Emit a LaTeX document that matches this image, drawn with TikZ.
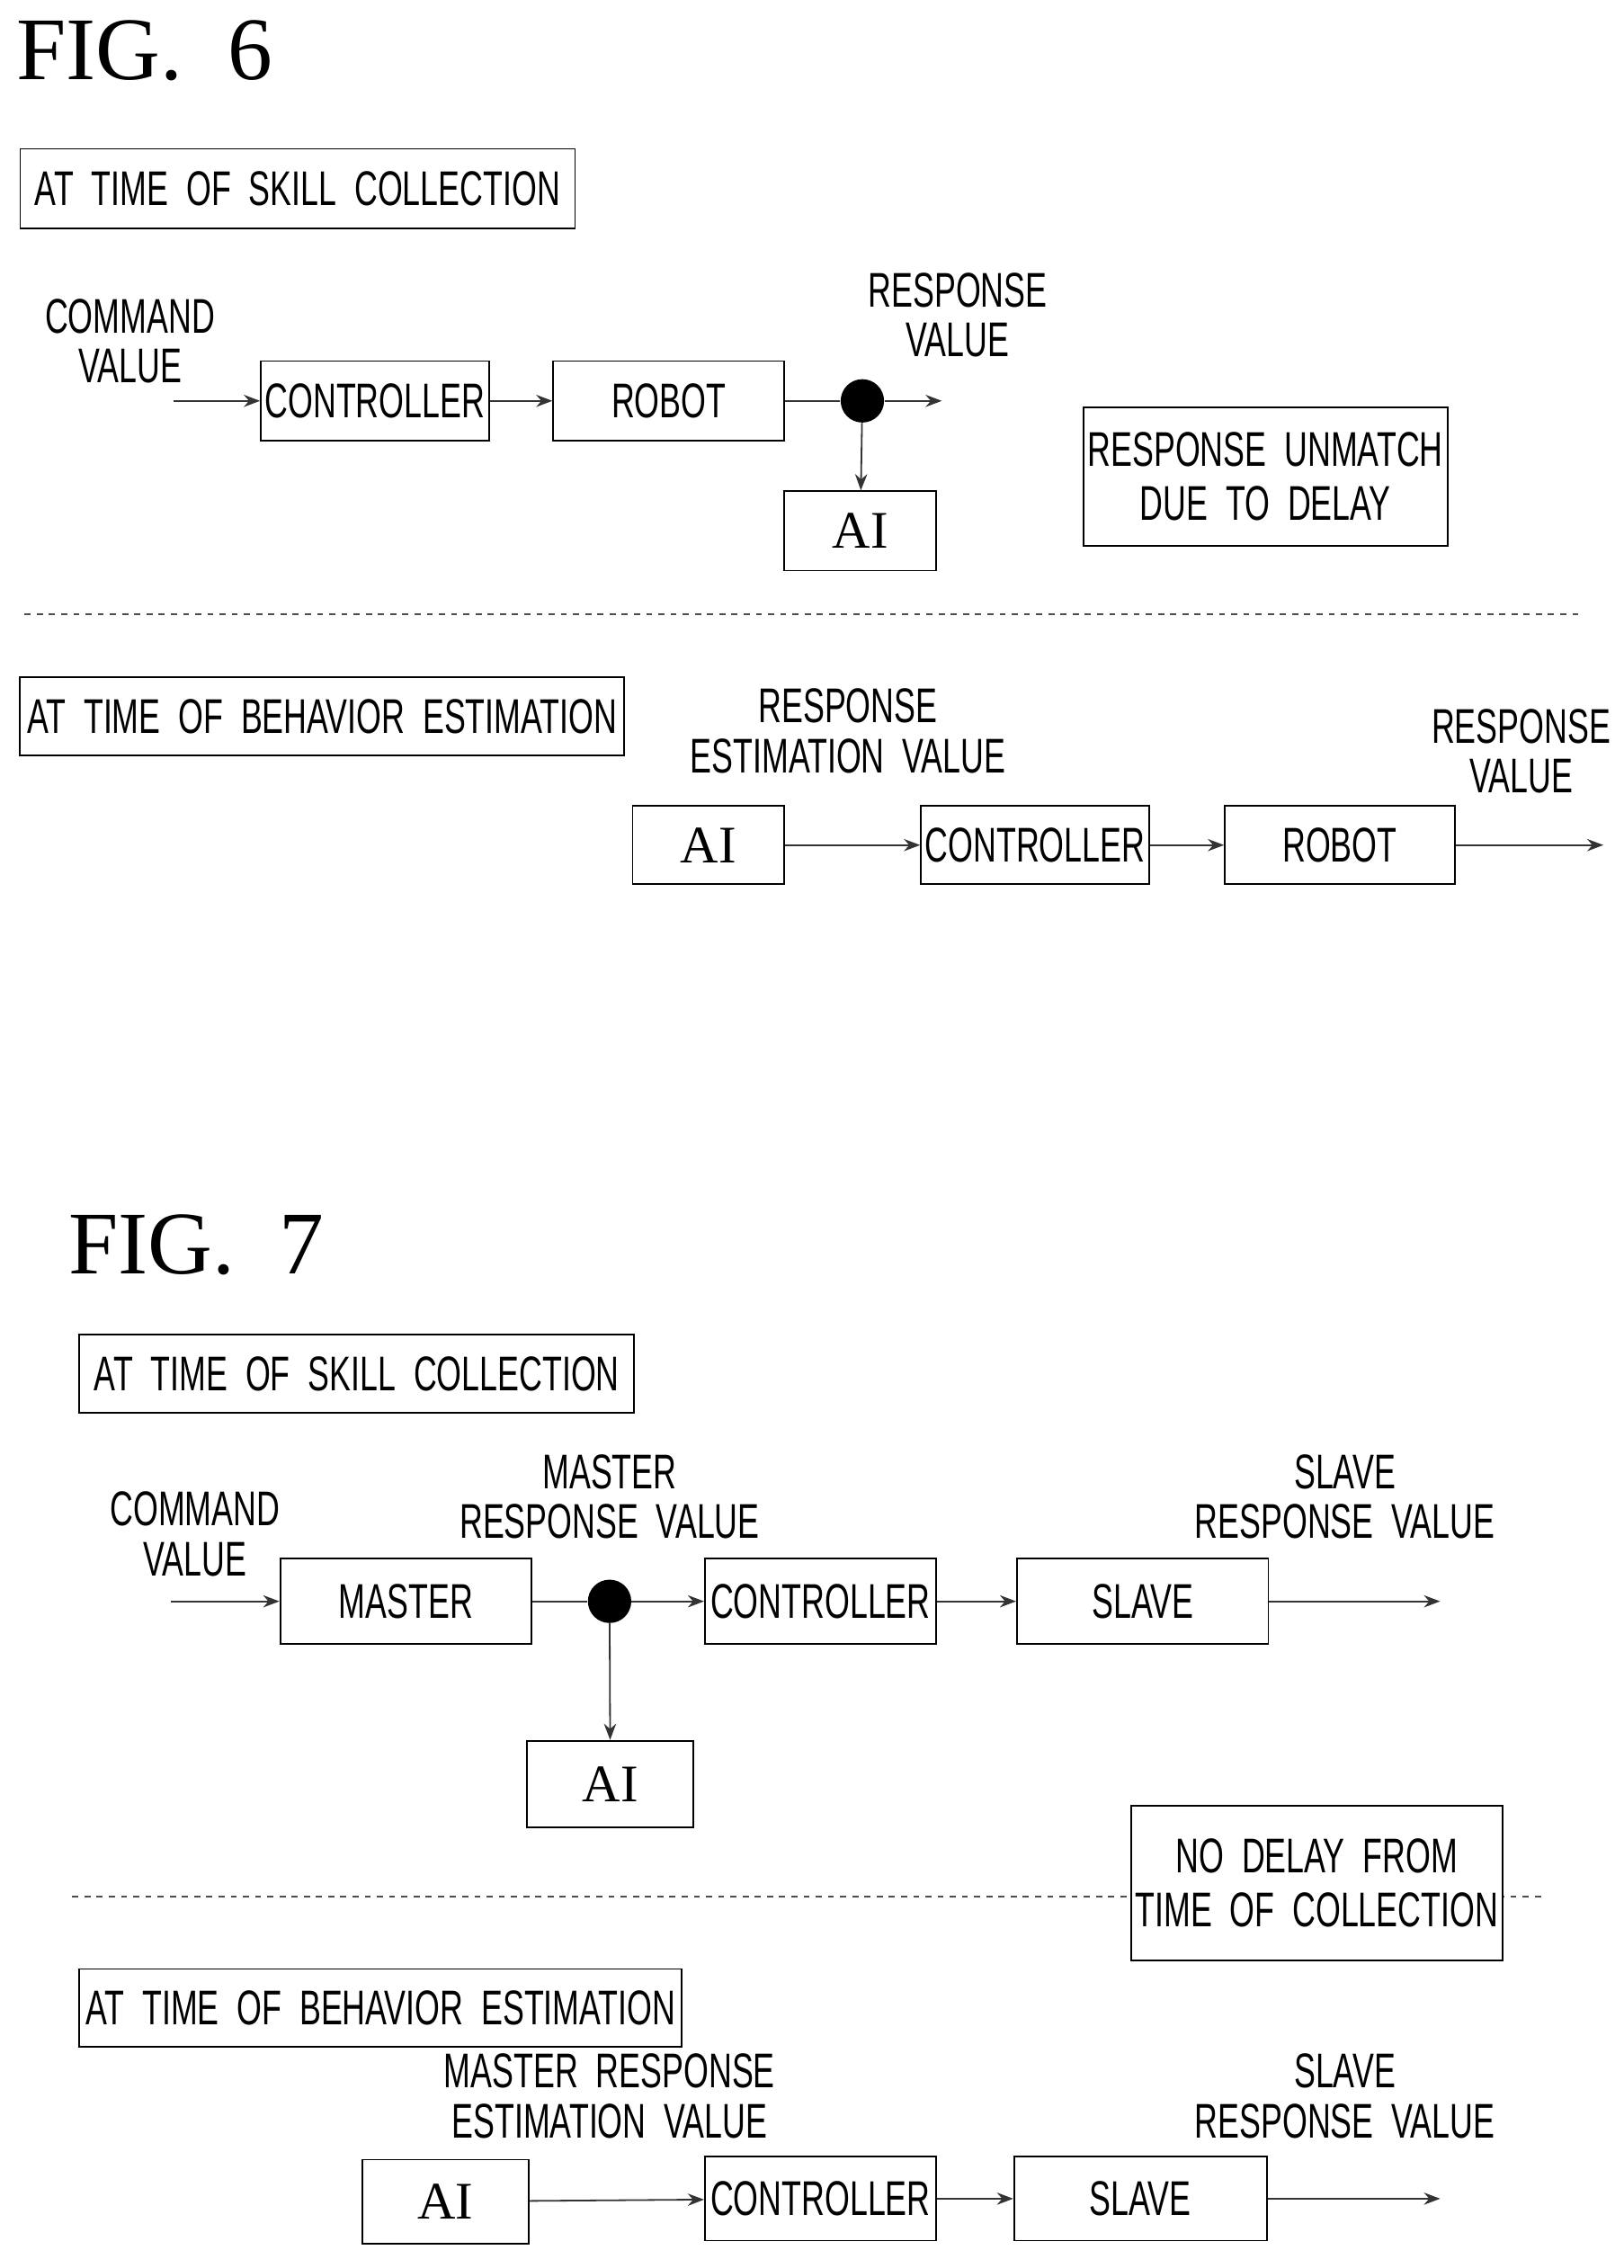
\documentclass[tikz,border=0pt]{standalone}
\usepackage{fontspec}
\setmainfont{Liberation Serif}
\newfontfamily\narrow[FakeStretch=0.66]{Liberation Sans}
\usetikzlibrary{arrows.meta}

\tikzset{
  box/.style={draw=black,thick,fill=white,minimum height=1.375cm,inner sep=2pt,font=\narrow\fontsize{24}{26}\selectfont},
  aibox/.style={box,font=\fontsize{26}{28}\selectfont},
  lbl/.style={align=center,inner sep=0pt,font=\narrow\fontsize{24}{24.5}\selectfont},
  fig/.style={inner sep=0pt,font=\fontsize{44}{46}\selectfont},
  dot/.style={circle,fill=black,minimum size=0.75cm,inner sep=0pt},
  sig/.style={draw=black!80,thick,-{Stealth[length=8pt,width=6pt]}}
}

\begin{document}
\begin{tikzpicture}[x=0.025cm,y=-0.025cm]
	\useasboundingbox (0,0) rectangle (1124,1570);

	% FIG. 6
	\node[fig] (f6) at (100,35){FIG.\ \ 6};
	\node[box,minimum width=9.6cm] (s6) at (206,130.5){AT\ \ TIME\ \ OF\ \ SKILL\ \ COLLECTION};
	\coordinate (in6) at (120,277.5);
	\node[lbl] (cv6) at (90,236){COMMAND\\VALUE};
	\node[box,minimum width=3.625cm] (ctrlA) at (259.5,277.5){CONTROLLER};
	\node[box,minimum width=4cm] (robotA) at (463,277.5){ROBOT};
	\node[dot] (dotA) at (597,277.5){};
	\coordinate (outA) at (652,277.5);
	\node[lbl] (rvA) at (663,218){RESPONSE\\VALUE};
	\node[aibox,minimum width=2.625cm] (aiA) at (595.5,367.5){AI};
	\node[box,minimum width=6.3cm,minimum height=2.4cm,align=center,font=\narrow\fontsize{24}{26.5}\selectfont] (um) at (876,330){RESPONSE\ \ UNMATCH\\DUE\ \ TO\ \ DELAY};

	\draw[sig] (in6) -- (ctrlA);
	\draw[sig] (ctrlA) -- (robotA);
	\draw[thick,draw=black!80] (robotA) -- (dotA);
	\draw[sig] (dotA) -- (outA);
	\draw[sig] (dotA) -- (aiA);

	\coordinate (d6a) at (17,425);
	\coordinate (d6b) at (1095,425);
	\draw[thick,dashed,draw=black!70] (d6a) -- (d6b);

	\node[box,minimum width=10.45cm,minimum height=1.35cm] (b6) at (223,496){AT\ \ TIME\ \ OF\ \ BEHAVIOR\ \ ESTIMATION};
	\node[aibox,minimum width=2.625cm,minimum height=1.35cm] (aiB) at (490.5,585){AI};
	\node[box,minimum width=3.625cm,minimum height=1.35cm] (ctrlB) at (716.5,585){CONTROLLER};
	\node[box,minimum width=3.975cm,minimum height=1.35cm] (robotB) at (927.5,585){ROBOT};
	\coordinate (outB) at (1110,585);
	\node[lbl] (rev6) at (587,506){RESPONSE\\ESTIMATION\ \ VALUE};
	\node[lbl] (rvB) at (1053,520){RESPONSE\\VALUE};

	\draw[sig] (aiB) -- (ctrlB);
	\draw[sig] (ctrlB) -- (robotB);
	\draw[sig] (robotB) -- (outB);

	% FIG. 7
	\node[fig] (f7) at (136,862){FIG.\ \ 7};
	\node[box,minimum width=9.6cm,minimum height=1.35cm] (s7) at (247,951){AT\ \ TIME\ \ OF\ \ SKILL\ \ COLLECTION};
	\coordinate (in7) at (118,1108.5);
	\node[lbl] (cv7) at (135,1062){COMMAND\\VALUE};
	\node[box,minimum width=4.35cm,minimum height=1.475cm] (masterC) at (281,1108.5){MASTER};
	\node[dot] (dotC) at (422,1108.5){};
	\node[box,minimum width=4cm,minimum height=1.475cm] (ctrlC) at (568,1108.5){CONTROLLER};
	\node[box,minimum width=4.35cm,minimum height=1.475cm] (slaveC) at (791,1108.5){SLAVE};
	\coordinate (outC) at (997,1108.5);
	\node[lbl] (mrv) at (422,1036){MASTER\\RESPONSE\ \ VALUE};
	\node[lbl] (srvC) at (931,1036){SLAVE\\RESPONSE\ \ VALUE};
	\node[aibox,minimum width=2.875cm,minimum height=1.5cm] (aiC) at (422.5,1235){AI};

	\draw[sig] (in7) -- (masterC);
	\draw[thick,draw=black!80] (masterC) -- (dotC);
	\draw[sig] (dotC) -- (ctrlC);
	\draw[sig] (ctrlC) -- (slaveC);
	\draw[sig] (slaveC) -- (outC);
	\draw[sig] (dotC) -- (aiC);

	\coordinate (d7a) at (50,1313);
	\coordinate (d7b) at (1070,1313);
	\draw[thick,dashed,draw=black!70] (d7a) -- (d7b);
	\node[box,minimum width=6.425cm,minimum height=2.675cm,align=center,font=\narrow\fontsize{24}{26.5}\selectfont] (nd) at (911.5,1303.5){NO\ \ DELAY\ \ FROM\\TIME\ \ OF\ \ COLLECTION};

	\node[box,minimum width=10.425cm,minimum height=1.35cm] (b7) at (263.5,1390){AT\ \ TIME\ \ OF\ \ BEHAVIOR\ \ ESTIMATION};
	\node[aibox,minimum width=2.875cm,minimum height=1.45cm] (aiD) at (308.5,1524){AI};
	\node[box,minimum width=4cm,minimum height=1.45cm] (ctrlD) at (568,1522){CONTROLLER};
	\node[box,minimum width=4.375cm,minimum height=1.45cm] (slaveD) at (789.5,1522){SLAVE};
	\coordinate (outD) at (997,1522);
	\node[lbl] (mrev) at (422,1451){MASTER\ \ RESPONSE\\ESTIMATION\ \ VALUE};
	\node[lbl] (srvD) at (931,1451){SLAVE\\RESPONSE\ \ VALUE};

	\draw[sig] (aiD) -- (ctrlD);
	\draw[sig] (ctrlD) -- (slaveD);
	\draw[sig] (slaveD) -- (outD);
\end{tikzpicture}
\end{document}
